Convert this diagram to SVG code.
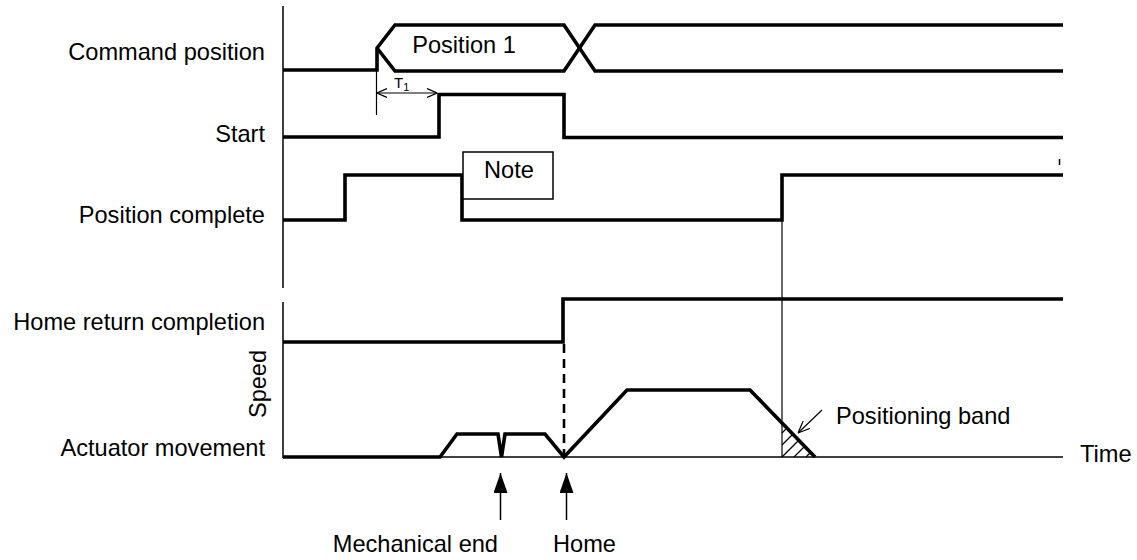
<svg xmlns="http://www.w3.org/2000/svg" width="1137" height="560" viewBox="0 0 1137 560">
<style>
text{font-family:"Liberation Sans",Arial,sans-serif;font-size:23.6px;fill:#000}
.lbl{text-anchor:end}
.sig{fill:none;stroke:#000;stroke-width:3.6;stroke-linejoin:miter}
.thin{fill:none;stroke:#000;stroke-width:1.5}
.hair{fill:none;stroke:#000;stroke-width:1.2}
</style>
<defs>
<marker id="open" viewBox="0 0 10 10" refX="10" refY="5" markerWidth="10" markerHeight="10" markerUnits="userSpaceOnUse" orient="auto-start-reverse">
<path d="M0,0.5 L10,5 L0,9.5" fill="none" stroke="#000" stroke-width="1.2"/>
</marker>
<marker id="open2" viewBox="0 0 12 12" refX="12" refY="6" markerWidth="12" markerHeight="12" markerUnits="userSpaceOnUse" orient="auto">
<path d="M0,1 L12,6 L0,11" fill="none" stroke="#000" stroke-width="1.2"/>
</marker>
<marker id="solid" viewBox="0 0 20 14" refX="20" refY="7" markerWidth="20" markerHeight="14" markerUnits="userSpaceOnUse" orient="auto">
<path d="M0,0 L20,7 L0,14 Z" fill="#000"/>
</marker>
</defs>

<g id="labels">
<text class="lbl" x="265" y="60">Command position</text>
<text class="lbl" x="265" y="142">Start</text>
<text class="lbl" x="265" y="223">Position complete</text>
<text class="lbl" x="265" y="330">Home return completion</text>
<text class="lbl" x="265" y="456">Actuator movement</text>
<text transform="translate(266,384) rotate(-90)" text-anchor="middle">Speed</text>
<text x="1080" y="462">Time</text>
</g>

<g id="axes">
<line class="thin" x1="283" y1="6" x2="283" y2="288"/>
<line class="thin" x1="283" y1="302" x2="283" y2="458"/>
<line class="thin" x1="283" y1="457" x2="1063" y2="457"/>
</g>

<g id="command-position">
<path class="sig" d="M283,70 H377 V48 L395,25 H564 L595,71 H1063"/>
<path class="sig" d="M377,48 L395,71 H564 L595,25 H1063"/>
<text x="464" y="53" text-anchor="middle">Position 1</text>
</g>

<g id="t1">
<line class="hair" x1="376.5" y1="70" x2="376.5" y2="115"/>
<line class="hair" x1="377" y1="93" x2="437" y2="93" marker-start="url(#open)" marker-end="url(#open)"/>
<text x="394" y="88" style="font-size:15px">T<tspan dy="3" style="font-size:11px">1</tspan></text>
</g>

<g id="start">
<path class="sig" d="M283,137 H439 V94.5 H564 V137.5 H1063"/>
</g>

<g id="position-complete">
<path class="sig" d="M283,220 H345 V175 H462 V220 H782 V175 H1063"/>
<line x1="1059.5" y1="159" x2="1059.5" y2="165" stroke="#000" stroke-width="1.5"/>
</g>

<g id="note">
<rect x="463" y="152" width="90" height="47" fill="#fff" stroke="#000" stroke-width="1.5"/>
<text x="509" y="178" text-anchor="middle">Note</text>
</g>

<g id="home-return-completion">
<path class="sig" d="M283,342 H563 V299 H1063"/>
<line x1="564" y1="344" x2="564" y2="457" stroke="#000" stroke-width="2.6" stroke-dasharray="9,6"/>
</g>

<g id="actuator-movement">
<path class="sig" d="M283,457 H440 L457,434 H498 L501.5,457 L505,434 H545 L564,457 L627,390 H750 L815,457"/>
<line class="hair" x1="782" y1="220" x2="782" y2="457"/>
<g class="hair">
<line x1="782" y1="433" x2="787" y2="428"/>
<line x1="782" y1="445" x2="793" y2="434"/>
<line x1="782" y1="457" x2="799" y2="440"/>
<line x1="794" y1="457" x2="805" y2="446"/>
<line x1="806" y1="457" x2="811" y2="452"/>
</g>
</g>

<g id="positioning-band">
<line class="hair" x1="822" y1="410" x2="798" y2="433" marker-end="url(#open2)"/>
<text x="836" y="424">Positioning band</text>
</g>

<g id="connectors">
<line class="thin" x1="500.5" y1="520" x2="500.5" y2="473" marker-end="url(#solid)"/>
<line class="thin" x1="566.5" y1="520" x2="566.5" y2="473" marker-end="url(#solid)"/>
</g>

<g id="markers-labels">
<text x="498" y="552" text-anchor="end">Mechanical end</text>
<text x="553" y="552">Home</text>
</g>
</svg>
